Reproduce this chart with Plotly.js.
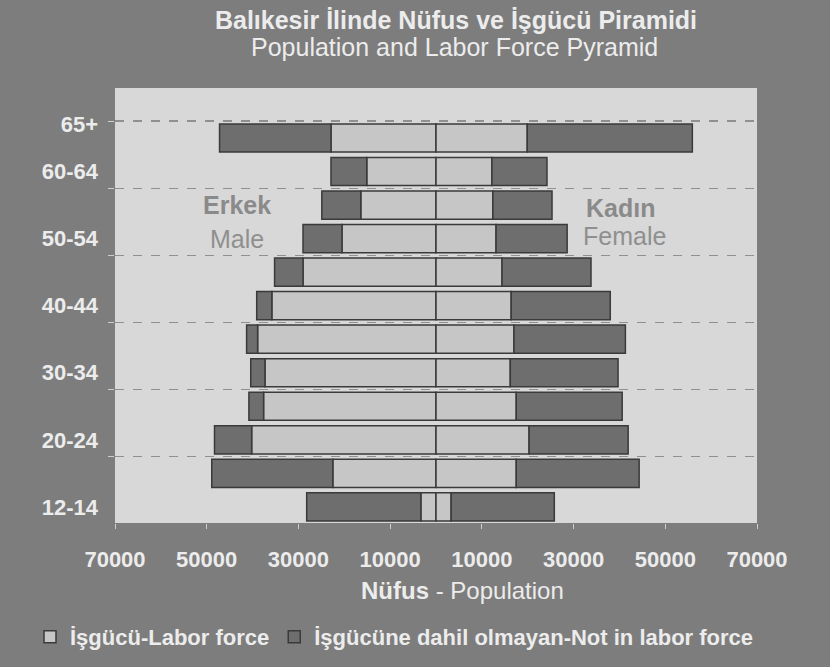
<!DOCTYPE html>
<html>
<head>
<meta charset="utf-8">
<script src="https://cdn.plot.ly/plotly-3.0.1.min.js"></script>
<style>html,body{margin:0;padding:0;background:#7d7d7d;}#chart{width:830px;height:667px;}</style>
</head>
<body>
<div id="chart"></div>
<script>
// Age groups, bottom to top
const ages = ['12-14','15-19','20-24','25-29','30-34','35-39','40-44','45-49','50-54','55-59','60-64','65+'];
// Male (Erkek)
const maleLabor    = [3300, 22500, 40200, 37600, 37300, 38900, 35800, 29000, 20500, 16400, 15100, 22900];
const maleNotLabor = [24900, 26400, 8100, 3200, 3100, 2400, 3300, 6200, 8500, 8500, 7800, 24300];
// Female (Kadın)
const femaleLabor    = [3300, 17500, 20300, 17500, 16200, 17000, 16400, 14400, 13100, 12400, 12200, 19900];
const femaleNotLabor = [22500, 26800, 21600, 23100, 23500, 24300, 21600, 19400, 15500, 12900, 12000, 36000];
// Labelled age groups on the axis
const labelledAges = ['12-14','20-24','30-34','40-44','50-54','60-64','65+'];
const xTickVals = [-70000,-50000,-30000,-10000,10000,30000,50000,70000];

const FONT = 'Liberation Sans, Arial, sans-serif';
const TXT = '#ececec';
const LIGHT = '#c6c6c6';
const DARK = '#6e6e6e';
const EDGE = '#3a3a3a';

const yPos = ages.map((a,i)=>i);
const neg = arr => arr.map(v=>-v);

const traces = [
  {type:'bar', orientation:'h', name:'İşgücü-Labor force', legendgroup:'lf', y:yPos, x:neg(maleLabor),
   marker:{color:LIGHT, line:{color:EDGE, width:1.5}}},
  {type:'bar', orientation:'h', name:'İşgücüne dahil olmayan-Not in labor force', legendgroup:'nlf', y:yPos, x:neg(maleNotLabor),
   marker:{color:DARK, line:{color:EDGE, width:1.5}}},
  {type:'bar', orientation:'h', name:'İşgücü-Labor force', legendgroup:'lf', showlegend:false, y:yPos, x:femaleLabor,
   marker:{color:LIGHT, line:{color:EDGE, width:1.5}}},
  {type:'bar', orientation:'h', name:'İşgücüne dahil olmayan-Not in labor force', legendgroup:'nlf', showlegend:false, y:yPos, x:femaleNotLabor,
   marker:{color:DARK, line:{color:EDGE, width:1.5}}}
];

const yTickVals = labelledAges.map(a => ages.indexOf(a) + (a==='65+' ? 0.42 : 0));
const gridVals = [];
for (let i=1;i<ages.length;i+=2) gridVals.push(i+0.5);

const layout = {
  width:830, height:667,
  paper_bgcolor:'#7d7d7d', plot_bgcolor:'#d8d8d8',
  margin:{l:115, r:73, t:88, b:144, autoexpand:false},
  barmode:'relative', bargap:0.16,
  font:{family:FONT, color:TXT},
  title:{text:'<b>Balıkesir İlinde Nüfus ve İşgücü Piramidi</b>', font:{family:FONT, size:25, color:TXT},
         xref:'container', x:456/830, xanchor:'center', yref:'container', y:1-20/667, yanchor:'middle'},
  xaxis:{range:[-70000,70000], tickmode:'array', tickvals:xTickVals, ticktext:xTickVals.map(v=>String(Math.abs(v))),
         tickfont:{family:FONT, size:22, color:TXT, weight:'bold'}, showgrid:false, zeroline:false,
         ticks:'outside', ticklen:5, tickcolor:'#cfcfcf', ticklabelstandoff:12, showline:false, fixedrange:true},
  yaxis:{range:[-0.48,12.49], tickmode:'array', tickvals:yTickVals, ticktext:labelledAges,
         tickfont:{family:FONT, size:22, color:TXT, weight:'bold'}, showgrid:false, zeroline:false, ticks:'',
         ticklabelstandoff:16, showline:false,
         minor:{tickmode:'array', tickvals:gridVals, showgrid:true, gridcolor:'#909090', gridwidth:1.5, griddash:'dash',
                ticks:'outside', ticklen:6, tickcolor:'#cfcfcf'}},
  legend:{orientation:'h', xref:'paper', x:(30-115)/642, xanchor:'left', yref:'paper', y:(523-637)/435, yanchor:'middle',
          font:{family:FONT, size:22, color:TXT, weight:'bold'}, bgcolor:'rgba(0,0,0,0)', itemwidth:30, traceorder:'normal'},
  annotations:[
    {text:'Population and Labor Force Pyramid', xref:'paper', yref:'paper', x:(455-115)/642, y:(523-47)/435,
     showarrow:false, font:{family:FONT, size:25, color:TXT}, xanchor:'center', yanchor:'middle'},
    {text:'<b>Nüfus</b> - Population', xref:'paper', yref:'paper', x:(462-115)/642, y:(523-590)/435,
     showarrow:false, font:{family:FONT, size:24, color:TXT}, xanchor:'center', yanchor:'middle'},
    {text:'<b>Erkek</b>', xref:'x', yref:'y', x:-43500, y:9.0, showarrow:false, font:{family:FONT, size:25, color:'#8a8a8a'}},
    {text:'Male', xref:'x', yref:'y', x:-43500, y:8.0, showarrow:false, font:{family:FONT, size:25, color:'#8f8f8f'}},
    {text:'<b>Kadın</b>', xref:'x', yref:'y', x:40200, y:8.9, showarrow:false, font:{family:FONT, size:25, color:'#8a8a8a'}},
    {text:'Female', xref:'x', yref:'y', x:41000, y:8.08, showarrow:false, font:{family:FONT, size:25, color:'#8f8f8f'}}
  ],
  showlegend:true
};

Plotly.newPlot('chart', traces, layout, {displayModeBar:false, staticPlot:true});
</script>
</body>
</html>
